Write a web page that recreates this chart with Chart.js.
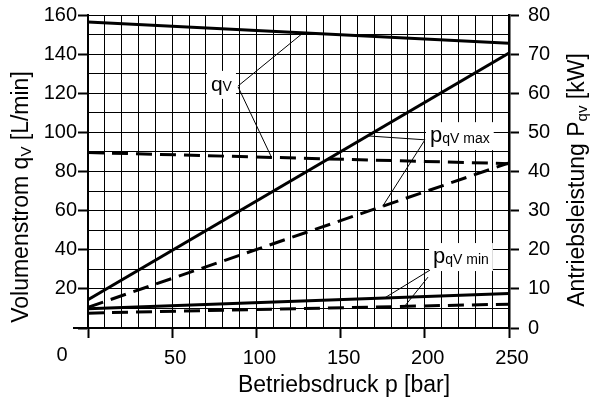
<!DOCTYPE html>
<html lang="de">
<head>
  <meta charset="utf-8" />
  <title>Volumenstrom und Antriebsleistung</title>
  <style>
    body { margin: 0; background: #fff; }
    .wrap { width: 590px; height: 401px; position: relative; }
  </style>
</head>
<body>
  <div class="wrap"><canvas id="kennlinie"></canvas></div>

  <script src="https://cdn.jsdelivr.net/npm/chart.js@4.4.4/dist/chart.umd.min.js"></script>
  <script>
    // === DATEN ===
    const druck = [0, 250];                 // bar
    const qvSolid = [156.4, 145.5];         // L/min
    const qvDashed = [89.7, 84.0];          // L/min
    const pMaxSolid = [7.2, 70.3];          // kW
    const pMaxDashed = [5.3, 42.2];         // kW
    const pMinSolid = [4.9, 8.8];           // kW
    const pMinDashed = [3.8, 6.1];          // kW
    const xTicks = [0, 50, 100, 150, 200, 250];
    const yLeftTicks = [20, 40, 60, 80, 100, 120, 140, 160];
    const yRightTicks = [0, 10, 20, 30, 40, 50, 60, 70, 80];

    const FONT = '"Liberation Sans", Arial, Helvetica, sans-serif';
    const pts = arr => druck.map((p, i) => ({ x: p, y: arr[i] }));

    function linie(label, arr, axis, dashed) {
      return {
        label, data: pts(arr), yAxisID: axis,
        borderColor: '#000', borderWidth: 3, pointRadius: 0,
        borderDash: dashed ? [16, 8] : [], tension: 0, fill: false
      };
    }

    // Beschriftungen mit Hinweislinien (in Datenkoordinaten)
    const hinweise = [
      { parts: [['q', 21, 0], ['V', 14, 0]], at: [73, 121.2], axis: 'y',
        leaders: [{ from: [89.1, 123.7], to: 127.7, ds: 0 },
                  { from: [89.1, 123.3], to: 109, ds: 1 }] },
      { parts: [['p', 22, 0], ['qV max', 14, 1]], at: [203.1, 47.5], axis: 'y1',
        leaders: [{ from: [200.1, 48.1], to: 166, ds: 2 },
                  { from: [200.1, 48.1], to: 175, ds: 3 }] },
      { parts: [['p', 22, 0], ['qV min', 14, 1]], at: [204.9, 16.6], axis: 'y1',
        leaders: [{ from: [203.1, 14.8], to: 176, ds: 4 },
                  { from: [201.9, 13.0], to: 188, ds: 5 }] }
    ];

    function richWidth(ctx, parts) {
      let w = 0;
      parts.forEach(([t, size]) => { ctx.font = size + 'px ' + FONT; w += ctx.measureText(t).width; });
      return w;
    }
    function richText(ctx, parts, x, y) {
      let cx = x;
      parts.forEach(([t, size, dy]) => {
        ctx.font = size + 'px ' + FONT;
        ctx.fillText(t, cx, y + dy);
        cx += ctx.measureText(t).width;
      });
    }
    function wertAuf(ds, p) {
      const d = ds.data;
      const t = (p - d[0].x) / (d[d.length - 1].x - d[0].x);
      return d[0].y + t * (d[d.length - 1].y - d[0].y);
    }

    const overlay = {
      id: 'overlay',
      beforeDatasetsDraw(chart) {
        const ctx = chart.ctx, x = chart.scales.x;
        ctx.save();
        ctx.fillStyle = '#fff';
        hinweise.forEach(h => {
          const px = x.getPixelForValue(h.at[0]);
          const py = chart.scales[h.axis].getPixelForValue(h.at[1]);
          const w = richWidth(ctx, h.parts);
          ctx.fillRect(px - 4, py - 20, w + 8, 28);
        });
        ctx.restore();
      },
      afterDraw(chart) {
        const ctx = chart.ctx, x = chart.scales.x, yl = chart.scales.y;
        const area = chart.chartArea;
        ctx.save();
        ctx.fillStyle = '#000';
        ctx.strokeStyle = '#000';

        // Hinweislinien und Texte
        ctx.lineWidth = 1;
        ctx.textAlign = 'left';
        ctx.textBaseline = 'alphabetic';
        hinweise.forEach(h => {
          const ys = chart.scales[h.axis];
          h.leaders.forEach(l => {
            const ds = chart.data.datasets[l.ds];
            const ty = chart.scales[ds.yAxisID].getPixelForValue(wertAuf(ds, l.to));
            ctx.beginPath();
            ctx.moveTo(x.getPixelForValue(l.from[0]), ys.getPixelForValue(l.from[1]));
            ctx.lineTo(x.getPixelForValue(l.to), ty);
            ctx.stroke();
          });
          richText(ctx, h.parts, x.getPixelForValue(h.at[0]), ys.getPixelForValue(h.at[1]));
        });

        // verlängerter Nullstrich links
        ctx.lineWidth = 2;
        ctx.beginPath();
        ctx.moveTo(area.left - 15, yl.getPixelForValue(0));
        ctx.lineTo(area.left, yl.getPixelForValue(0));
        ctx.stroke();

        // "0" in der Ecke
        ctx.font = '20px ' + FONT;
        ctx.textAlign = 'center';
        ctx.textBaseline = 'middle';
        ctx.fillText('0', area.left - 26, 355);

        // Achsentitel
        ctx.textAlign = 'left';
        const titel = (parts, cx, cy, rot) => {
          ctx.save();
          ctx.translate(cx, cy);
          if (rot) ctx.rotate(-Math.PI / 2);
          richText(ctx, parts, -richWidth(ctx, parts) / 2, 0);
          ctx.restore();
        };
        titel([['Betriebsdruck p [bar]', 23, 0]], 344, 386, false);
        titel([['Volumenstrom q', 23, 0], ['V', 15, 5], [' [L/min]', 23, 0]], 22, 197, true);
        titel([['Antriebsleistung P', 23, 0], ['qv', 15, 5], [' [kW]', 23, 0]], 578, 180, true);
        ctx.restore();
      }
    };

    const tickFont = { family: FONT, size: 20 };
    // feste Achsenmaße, ohne automatische Randzugabe
    const fixV = w => s => { s.width = w; s.paddingTop = 0; s.paddingBottom = 0; };

    new Chart(document.getElementById('kennlinie'), {
      type: 'line',
      data: {
        datasets: [
          linie('qV', qvSolid, 'y', false),
          linie('qV gestrichelt', qvDashed, 'y', true),
          linie('pqV max', pMaxSolid, 'y1', false),
          linie('pqV max gestrichelt', pMaxDashed, 'y1', true),
          linie('pqV min', pMinSolid, 'y1', false),
          linie('pqV min gestrichelt', pMinDashed, 'y1', true)
        ]
      },
      options: {
        responsive: true,
        maintainAspectRatio: false,
        animation: false,
        layout: { padding: { top: 15, left: 0, right: 0, bottom: 0 } },
        plugins: { legend: { display: false }, tooltip: { enabled: false } },
        scales: {
          x: {
            type: 'linear', min: 0, max: 250,
            afterFit: s => { s.height = 73; s.paddingLeft = 0; s.paddingRight = 0; },
            ticks: {
              stepSize: 10, autoSkip: false, maxRotation: 0, padding: 8, labelOffset: 3,
              color: '#000', font: tickFont,
              callback: v => (xTicks.includes(v) && v !== 0) ? v : ''
            },
            grid: {
              color: '#000', lineWidth: 1, tickLength: 10,
              tickColor: c => (c.tick && xTicks.includes(c.tick.value)) ? '#000' : 'rgba(0,0,0,0)',
              tickWidth: 2
            },
            border: { color: '#000', width: 2 }
          },
          y: {
            position: 'left', min: 0, max: 160,
            afterFit: fixV(88),
            ticks: {
              stepSize: 10, autoSkip: false, padding: 1,
              color: '#000', font: tickFont,
              callback: v => yLeftTicks.includes(v) ? v : ''
            },
            grid: {
              color: '#000', lineWidth: 1, tickLength: 10,
              tickColor: c => (c.tick && (yLeftTicks.includes(c.tick.value) || c.tick.value === 0)) ? '#000' : 'rgba(0,0,0,0)',
              tickWidth: 2
            },
            border: { color: '#000', width: 2 }
          },
          y1: {
            position: 'right', min: 0, max: 80,
            afterFit: fixV(81),
            ticks: {
              stepSize: 10, autoSkip: false, padding: 9,
              color: '#000', font: tickFont,
              callback: v => yRightTicks.includes(v) ? v : ''
            },
            grid: { drawOnChartArea: false, color: '#000', tickLength: 10, tickWidth: 2 },
            border: { color: '#000', width: 2.5 }
          }
        }
      },
      plugins: [overlay]
    });
  </script>
</body>
</html>
